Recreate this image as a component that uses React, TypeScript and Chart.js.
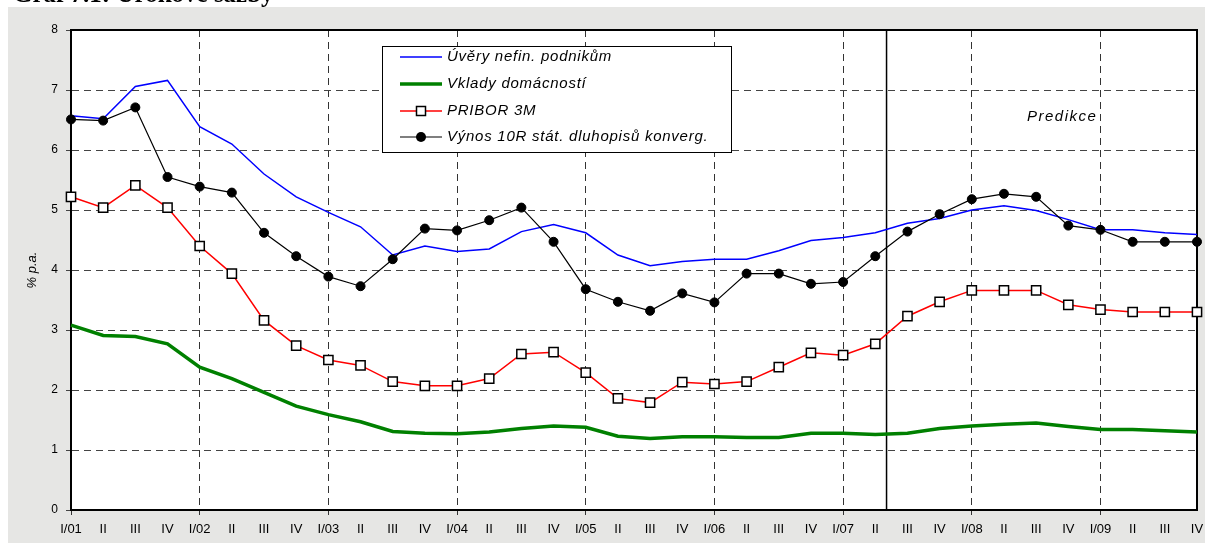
import React, { useEffect, useRef } from 'react';
import { Chart, registerables } from 'chart.js';

Chart.register(...registerables);

const titleText = 'Graf 7.1: Úrokové sazby';
const yAxisTitle = '% p.a.';
const predictionLabel = 'Predikce';

const quarters = [
  'I/01', 'II', 'III', 'IV',
  'I/02', 'II', 'III', 'IV',
  'I/03', 'II', 'III', 'IV',
  'I/04', 'II', 'III', 'IV',
  'I/05', 'II', 'III', 'IV',
  'I/06', 'II', 'III', 'IV',
  'I/07', 'II', 'III', 'IV',
  'I/08', 'II', 'III', 'IV',
  'I/09', 'II', 'III', 'IV',
];

const seriesNames = [
  'Úvěry nefin. podnikům',
  'Vklady domácností',
  'PRIBOR 3M',
  'Výnos 10R stát. dluhopisů konverg.',
];

const uveryNefin = [
  6.57, 6.52, 7.06, 7.16, 6.39, 6.10, 5.60, 5.22, 4.96, 4.72, 4.25, 4.40,
  4.31, 4.35, 4.64, 4.76, 4.62, 4.25, 4.07, 4.14, 4.18, 4.18, 4.32, 4.49,
  4.54, 4.62, 4.78, 4.86, 5.00, 5.07, 4.99, 4.84, 4.67, 4.67, 4.62, 4.59,
];

const vkladyDomacnosti = [
  3.08, 2.91, 2.89, 2.77, 2.38, 2.19, 1.96, 1.73, 1.59, 1.47, 1.31, 1.28,
  1.27, 1.30, 1.36, 1.40, 1.38, 1.23, 1.19, 1.22, 1.22, 1.21, 1.21, 1.28,
  1.28, 1.26, 1.28, 1.36, 1.40, 1.43, 1.45, 1.39, 1.34, 1.34, 1.32, 1.30,
];

const pribor3M = [
  5.22, 5.04, 5.41, 5.04, 4.40, 3.94, 3.16, 2.74, 2.50, 2.41, 2.14, 2.07,
  2.07, 2.19, 2.60, 2.63, 2.29, 1.86, 1.79, 2.13, 2.10, 2.14, 2.38, 2.62,
  2.58, 2.77, 3.23, 3.47, 3.66, 3.66, 3.66, 3.42, 3.34, 3.30, 3.30, 3.30,
];

const vynos10R = [
  6.51, 6.49, 6.71, 5.55, 5.39, 5.29, 4.62, 4.23, 3.89, 3.73, 4.18, 4.69,
  4.66, 4.83, 5.04, 4.47, 3.68, 3.47, 3.32, 3.61, 3.46, 3.94, 3.94, 3.77,
  3.80, 4.23, 4.64, 4.93, 5.18, 5.27, 5.22, 4.74, 4.67, 4.47, 4.47, 4.47,
];

// position (in category units) of the forecast divider
const predictionStart = 25.35;

const FONT = '"Liberation Sans", Arial, sans-serif';

const decorPlugin = {
  id: 'decor',
  beforeDraw(chart: any) {
    const { ctx, width, height, chartArea: a } = chart;
    ctx.save();
    ctx.fillStyle = '#e6e6e4';
    ctx.fillRect(0, 0, width, height);
    ctx.fillStyle = '#ffffff';
    ctx.fillRect(a.left, a.top, a.right - a.left, a.bottom - a.top);
    ctx.restore();
  },
  beforeDatasetsDraw(chart: any) {
    const { ctx, chartArea: a } = chart;
    const x = chart.scales.x.getPixelForValue(predictionStart);
    ctx.save();
    ctx.strokeStyle = '#000';
    ctx.lineWidth = 1.5;
    ctx.beginPath();
    ctx.moveTo(x, a.top);
    ctx.lineTo(x, a.bottom);
    ctx.stroke();
    // top and right frame
    ctx.lineWidth = 2;
    ctx.beginPath();
    ctx.moveTo(a.left, a.top);
    ctx.lineTo(a.right, a.top);
    ctx.lineTo(a.right, a.bottom);
    ctx.stroke();
    // prediction label
    ctx.fillStyle = '#000';
    ctx.font = 'italic 15px ' + FONT;
    (ctx as any).letterSpacing = '1.5px';
    ctx.textAlign = 'left';
    ctx.textBaseline = 'alphabetic';
    ctx.fillText(predictionLabel, a.right - 170, a.top + 91);
    ctx.restore();
  },
  afterDatasetsDraw(chart: any) {
    const { ctx, chartArea: a } = chart;
    const bx = a.left + 311;
    const by = a.top + 16;
    const bw = 349;
    const bh = 106;
    ctx.save();
    ctx.fillStyle = '#fff';
    ctx.fillRect(bx, by, bw, bh);
    ctx.strokeStyle = '#000';
    ctx.lineWidth = 1;
    ctx.strokeRect(bx + 0.5, by + 0.5, bw, bh);
    const rows = [11, 38, 65, 91];
    const colors = ['#0000ff', '#008000', '#ff0000', '#000000'];
    const widths = [1.5, 3.5, 1.5, 1.2];
    for (let i = 0; i < seriesNames.length; i++) {
      const y = by + rows[i];
      const x1 = bx + 18;
      const x2 = bx + 60;
      ctx.strokeStyle = colors[i];
      ctx.lineWidth = widths[i];
      ctx.beginPath();
      ctx.moveTo(x1, y);
      ctx.lineTo(x2, y);
      ctx.stroke();
      const cx = (x1 + x2) / 2;
      if (i === 2) {
        ctx.fillStyle = '#fff';
        ctx.fillRect(cx - 4.5, y - 4.5, 9, 9);
        ctx.strokeStyle = '#000';
        ctx.lineWidth = 1.5;
        ctx.strokeRect(cx - 4.5, y - 4.5, 9, 9);
      } else if (i === 3) {
        ctx.fillStyle = '#000';
        ctx.beginPath();
        ctx.arc(cx, y, 5, 0, Math.PI * 2);
        ctx.fill();
      }
      ctx.fillStyle = '#000';
      ctx.font = 'italic 15px ' + FONT;
      (ctx as any).letterSpacing = '0.75px';
      ctx.textAlign = 'left';
      ctx.textBaseline = 'middle';
      ctx.fillText(seriesNames[i], bx + 65, y);
    }
    ctx.restore();
  },
};

export default function App() {
  const canvasRef = useRef<HTMLCanvasElement | null>(null);

  useEffect(() => {
    const canvas = canvasRef.current;
    if (!canvas) return;
    Chart.defaults.font.family = FONT;
    const chart = new Chart(canvas, {
      type: 'line',
      data: {
        labels: quarters,
        datasets: [
          {
            label: seriesNames[3],
            data: vynos10R,
            borderColor: '#000',
            borderWidth: 1.2,
            pointStyle: 'circle',
            pointRadius: 4.5,
            pointBackgroundColor: '#000',
            pointBorderColor: '#000',
            pointBorderWidth: 1,
            tension: 0,
          },
          {
            label: seriesNames[2],
            data: pribor3M,
            borderColor: '#ff0000',
            borderWidth: 1.5,
            pointStyle: 'rect',
            pointRadius: 6.5,
            pointBackgroundColor: '#fff',
            pointBorderColor: '#000',
            pointBorderWidth: 1.5,
            tension: 0,
          },
          {
            label: seriesNames[0],
            data: uveryNefin,
            borderColor: '#0000ff',
            borderWidth: 1.5,
            pointRadius: 0,
            tension: 0,
          },
          {
            label: seriesNames[1],
            data: vkladyDomacnosti,
            borderColor: '#008000',
            borderWidth: 3.5,
            pointRadius: 0,
            tension: 0,
          },
        ],
      },
      options: {
        animation: false,
        responsive: true,
        maintainAspectRatio: false,
        devicePixelRatio: 1,
        layout: { padding: { left: 0, right: 7, top: 23, bottom: 0 } },
        plugins: {
          legend: { display: false },
          tooltip: { enabled: false },
          title: { display: false },
        },
        scales: {
          x: {
            type: 'category',
            offset: false,
            grid: {
              color: (c: any) => (c.index % 4 === 0 ? '#333' : 'rgba(0,0,0,0)'),
              lineWidth: 1,
              tickLength: 5,
            },
            border: { display: true, color: '#000', width: 2, dash: [7, 5] },
            ticks: {
              autoSkip: false,
              maxRotation: 0,
              minRotation: 0,
              color: '#000',
              font: { size: 13 },
              padding: 7,
            },
            afterFit: (s: any) => {
              s.height = 33;
              s.paddingLeft = 0;
              s.paddingRight = 0;
            },
          },
          y: {
            min: 0,
            max: 8,
            grid: { color: '#444', lineWidth: 1, tickLength: 5 },
            border: { display: true, color: '#000', width: 2, dash: [7, 5] },
            ticks: {
              stepSize: 1,
              color: '#000',
              font: { size: 12 },
              padding: 8,
            },
            title: {
              display: true,
              text: yAxisTitle,
              color: '#000',
              font: { size: 13, style: 'italic' },
              padding: { top: 17, bottom: 0 },
            },
            afterFit: (s: any) => {
              s.width = 63;
              s.paddingTop = 0;
              s.paddingBottom = 0;
            },
          },
        },
      },
      plugins: [decorPlugin],
    });
    return () => chart.destroy();
  }, []);

  return (
    <div>
      <div
        style={{
          position: 'fixed',
          left: 13,
          top: -19,
          fontFamily: '"Liberation Serif", "Times New Roman", serif',
          fontWeight: 'bold',
          fontSize: 25,
          lineHeight: '25px',
          whiteSpace: 'nowrap',
          zIndex: 2,
        }}
      >
        {titleText}
      </div>
      <div style={{ position: 'fixed', left: 8, top: 7, width: 1197, height: 536, zIndex: 1 }}>
        <canvas ref={canvasRef} />
      </div>
    </div>
  );
}
